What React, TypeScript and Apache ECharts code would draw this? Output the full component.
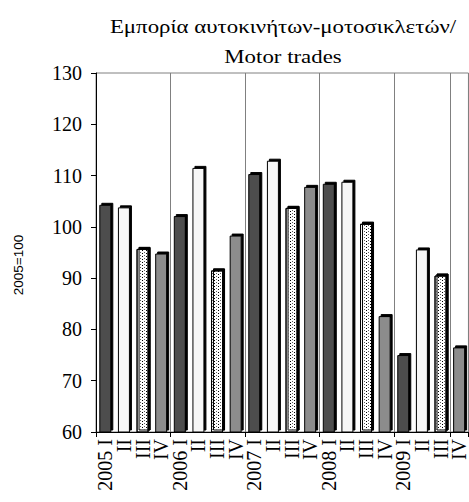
import React, { useEffect, useRef } from 'react';
import * as echarts from 'echarts';

const categories = [
  '2005 I', 'II', 'III', 'IV',
  '2006 I', 'II', 'III', 'IV',
  '2007 I', 'II', 'III', 'IV',
  '2008 I', 'II', 'III', 'IV',
  '2009 I', 'II', 'III', 'IV',
];

const values = [
  104.3, 103.8, 95.7, 94.8,
  102.1, 111.5, 91.5, 98.3,
  110.3, 112.9, 103.7, 107.8,
  108.4, 108.8, 100.6, 82.6,
  75.0, 95.6, 90.5, 76.5,
];

const titleText = 'Εμπορία αυτοκινήτων-μοτοσικλετών/\nMotor trades';
const yAxisName = '2005=100';
const yMin = 60;
const yMax = 130;
const yInterval = 10;

const serif = 'Liberation Serif';
const sans = 'Liberation Sans';

const quarterStyles: any[] = [
  { color: '#4d4d4d' },
  { color: '#f7f7f7' },
  {
    color: '#ffffff',
    decal: {
      symbol: 'rect',
      symbolSize: 1,
      dashArrayX: [1, 3],
      dashArrayY: [1, 2],
      color: '#606060',
      rotation: 0,
    },
  },
  { color: '#8c8c8c' },
];

export default function App() {
  const ref = useRef<HTMLDivElement>(null);

  useEffect(() => {
    if (!ref.current) return;
    const chart = echarts.init(ref.current, undefined, { renderer: 'svg' });
    const data = values.map((v, i) => ({
      value: v,
      itemStyle: {
        ...quarterStyles[i % 4],
        borderColor: '#000',
        borderWidth: 1,
        shadowColor: '#000',
        shadowBlur: 0,
        shadowOffsetX: 2,
        shadowOffsetY: -2,
      },
    }));
    chart.setOption({
      animation: false,
      backgroundColor: '#ffffff',
      graphic: [
        {
          type: 'text',
          x: 283,
          y: 12,
          scaleX: 1.27,
          style: {
            text: titleText,
            fontFamily: serif,
            fontSize: 18,
            lineHeight: 30,
            fill: '#000',
            align: 'center',
            verticalAlign: 'top',
          },
        },
        {
          type: 'text',
          x: 18,
          y: 265,
          rotation: Math.PI / 2,
          style: {
            text: yAxisName,
            fontFamily: sans,
            fontSize: 13.5,
            fill: '#000',
            align: 'center',
            verticalAlign: 'middle',
          },
        },
      ],
      grid: {
        left: 96,
        top: 73,
        width: 378,
        height: 359,
        show: true,
        borderColor: '#808080',
        borderWidth: 1,
        backgroundColor: 'transparent',
      },
      xAxis: {
        type: 'category',
        data: categories,
        boundaryGap: true,
        axisLine: { show: true, lineStyle: { color: '#000', width: 1 } },
        axisTick: { show: true, interval: 3, length: 5, lineStyle: { color: '#000' } },
        splitLine: { show: true, interval: 3, lineStyle: { color: '#808080', width: 1 } },
        axisLabel: {
          interval: 0,
          rotate: 90,
          margin: 7,
          padding: [0, 0, 10, 0],
          fontFamily: serif,
          fontSize: 20,
          color: '#000',
        },
      },
      yAxis: {
        type: 'value',
        min: yMin,
        max: yMax,
        interval: yInterval,
        axisLine: { show: true, lineStyle: { color: '#000', width: 1 } },
        axisTick: { show: true, length: 5, lineStyle: { color: '#000' } },
        splitLine: { show: false },
        axisLabel: {
          margin: 14,
          fontFamily: serif,
          fontSize: 20,
          color: '#000',
        },
      },
      series: [
        {
          type: 'bar',
          data,
          barWidth: 12,
        },
      ],
    });
    return () => chart.dispose();
  }, []);

  return (
    <div
      ref={ref}
      style={{ position: 'absolute', left: 0, top: 0, width: 469, height: 502 }}
    />
  );
}
